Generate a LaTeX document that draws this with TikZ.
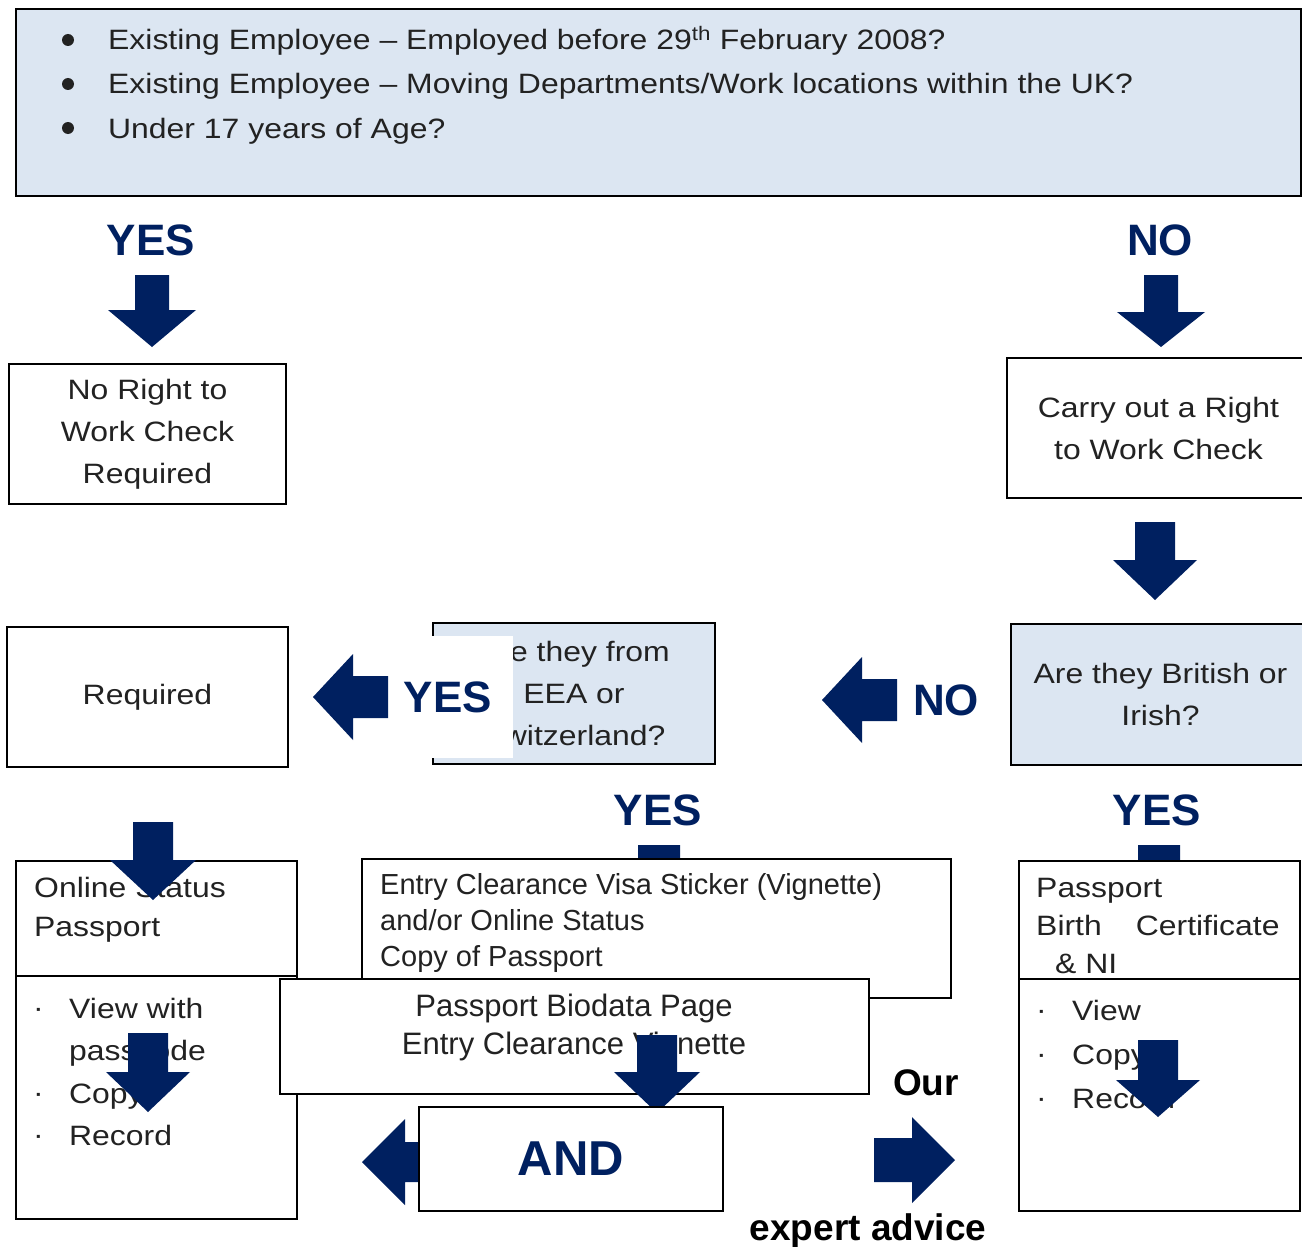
\documentclass[tikz,border=0pt]{standalone}
\usepackage{fontspec}
\setmainfont{Liberation Sans}[FakeStretch=1.14]
\newfontfamily\plainsans{Liberation Sans}
\usetikzlibrary{calc}
\usetikzlibrary{positioning}
\definecolor{navy}{HTML}{002060}
\definecolor{paleblue}{HTML}{DCE6F2}
\definecolor{inkgray}{HTML}{222222}
\tikzstyle{plainbox} = [draw=black, line width=1.6pt, fill=white, inner sep=0pt]
\tikzstyle{askbox} = [plainbox, fill=paleblue]
\tikzstyle{boxtext} = [text=inkgray, inner sep=0pt, align=center, font=\fontsize{28}{42}\selectfont]
\tikzstyle{answer} = [text=navy, inner sep=0pt, font=\plainsans\bfseries\fontsize{44}{44}\selectfont]
\tikzset{
  pics/blockarrow/.style n args={4}{code={
    \fill[navy] (-#1,0) -- (#1,0) -- (#1,#3) -- (#2,#3) -- (0,#3+#4) -- (-#2,#3) -- (-#1,#3) -- cycle;
  }}
}

\begin{document}
\begin{tikzpicture}[x=1pt, y=-1pt]
\clip (0,0) rectangle (1302,1247);

% opening questions
\node[askbox, anchor=north west, minimum width=1285pt, minimum height=187pt] (questions) at (15,8) {};
\foreach \yb in {40,84,128}
  \fill[inkgray] (68,\yb) circle (6);
\node[boxtext, anchor=base west] (q_before) at (108,50) {Existing Employee – Employed before 29\textsuperscript{th} February 2008?};
\node[boxtext, anchor=base west] (q_moving) at (108,94) {Existing Employee – Moving Departments/Work locations within the UK?};
\node[boxtext, anchor=base west] (q_under) at (108,138) {Under 17 years of Age?};

\node[answer] (yes_top) at (151,240) {YES};
\node[answer] (no_top) at (1160,240) {NO};
\pic at (152,275) {blockarrow={17}{44}{35}{37}};
\pic at (1161,275) {blockarrow={17}{44}{37}{35}};

\node[plainbox, boxtext, minimum width=277pt, minimum height=140pt] (no_check) at (147.5,434) {No Right to\\Work Check\\Required};
\node[plainbox, boxtext, minimum width=303pt, minimum height=140pt] (rtw_check) at (1158.5,428) {Carry out a Right\\to Work Check};
\pic at (1155,522) {blockarrow={20}{42}{38}{40}};

% nationality questions
\node[askbox, boxtext, minimum width=299pt, minimum height=141pt] (british) at (1160.5,694.5) {Are they British or\\Irish?};
\pic[rotate=-90] at (897,700) {blockarrow={21}{43}{35}{40}};
\node[answer] (no_british) at (946,700) {NO};

\node[askbox, boxtext, minimum width=282pt, minimum height=141pt] (eea) at (574,693.5) {Are they from\\EEA or\\Switzerland?};
\fill[white] (430.5,636) rectangle (513,758);
\node[answer] (yes_eea) at (448,697) {YES};
\pic[rotate=-90] at (388,697) {blockarrow={21}{43}{35}{40}};
\node[plainbox, boxtext, minimum width=281pt, minimum height=140pt] (required) at (147.5,697) {Required};

\node[answer] (yes_mid) at (658,810) {YES};
\node[answer] (yes_right) at (1157,810) {YES};
\pic at (659,845) {blockarrow={21}{43}{40}{40}};
\pic at (1159,845) {blockarrow={21}{43}{40}{40}};

% left column
\node[plainbox, anchor=north west, minimum width=281pt, minimum height=115pt] (online) at (15,860) {};
\node[boxtext, anchor=north west, align=left, font=\fontsize{28}{39}\selectfont] (online_text) at ($(online.north west)+(19,17)$) {Online Status\\Passport};
\node[plainbox, anchor=north west, minimum width=281pt, minimum height=243pt] (left_steps) at (15,975) {};
\node[boxtext, anchor=north west, align=left, font=\fontsize{28}{42.3}\selectfont] (left_steps_text) at ($(left_steps.north west)+(54,23)$) {View with\\passcode\\Copy\\Record};
\node[boxtext, anchor=north west, align=left, font=\fontsize{28}{42.3}\selectfont] (left_dots) at ($(left_steps.north west)+(18,23)$) {·\vphantom{V}\\\mbox{}\\·\\·};
\pic at (153,822) {blockarrow={20}{43}{38}{40}};
\pic at (148,1033) {blockarrow={20}{42}{39}{40}};

% middle column
\node[plainbox, anchor=north west, minimum width=589pt, minimum height=139pt] (entry) at (361,858) {};
\node[boxtext, anchor=north west, align=left, font=\plainsans\fontsize{29}{36}\selectfont] (entry_text) at ($(entry.north west)+(19,15)$) {Entry Clearance Visa Sticker (Vignette)\\and/or Online Status\\Copy of Passport};
\node[plainbox, anchor=north west, minimum width=589pt, minimum height=115pt] (biodata) at (279,978) {};
\node[boxtext, anchor=north, font=\plainsans\fontsize{31}{38}\selectfont] (biodata_text) at (574,994) {Passport Biodata Page\\Entry Clearance Vignette};
\pic at (657,1035) {blockarrow={20}{43}{37}{41}};

\pic[rotate=-90] at (445,1162) {blockarrow={20}{43}{40}{43}};
\node[plainbox, answer, font=\plainsans\bfseries\fontsize{49}{49}\selectfont, minimum width=304pt, minimum height=104pt] (and_box) at (571,1159) {AND};
\pic[rotate=90] at (874,1160) {blockarrow={22}{43}{38}{43}};
\node[inner sep=0pt, font=\plainsans\bfseries\fontsize{37}{37}\selectfont] (our) at (926,1083) {Our};
\node[inner sep=0pt, anchor=base, font=\plainsans\bfseries\fontsize{37}{37}\selectfont] (advice) at (868,1240) {expert advice};

% right column
\node[plainbox, anchor=north west, minimum width=281pt, minimum height=118pt] (uk_docs) at (1018,860) {};
\node[boxtext, anchor=north west, align=left, font=\fontsize{28}{38}\selectfont] (uk_docs_text) at ($(uk_docs.north west)+(18,18)$) {Passport\\Birth\hspace*{34pt}Certificate\\\hspace*{19pt}\& NI};
\node[plainbox, anchor=north west, minimum width=281pt, minimum height=232pt] (uk_steps) at (1018,978) {};
\node[boxtext, anchor=north west, align=left, font=\fontsize{28}{44}\selectfont] (uk_steps_text) at ($(uk_steps.north west)+(54,22)$) {View\\Copy\\Record};
\node[boxtext, anchor=north west, align=left, font=\fontsize{28}{44}\selectfont] (uk_dots) at ($(uk_steps.north west)+(18,22)$) {·\vphantom{V}\\·\\·};
\pic at (1158,1040) {blockarrow={20}{42}{40}{37}};
\end{tikzpicture}
\end{document}
